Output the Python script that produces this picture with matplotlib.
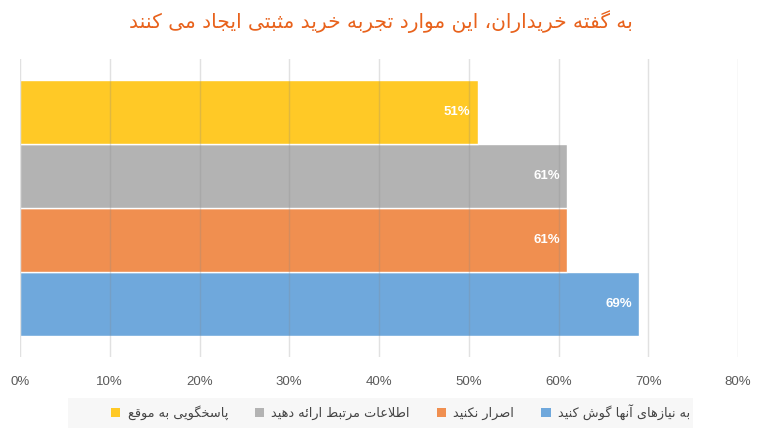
import matplotlib
import matplotlib.pyplot as plt
from matplotlib.patches import Patch, Rectangle

matplotlib.use("Agg")

# Data (bottom to top)
labels = ["به نیازهای آنها گوش کنید", "اصرار نکنید", "اطلاعات مرتبط ارائه دهید", "پاسخگویی به موقع"]
values = [69, 61, 61, 51]
colors = ["#6FA8DC", "#F08F50", "#B3B3B3", "#FFC926"]
title = "به گفته خریداران، این موارد تجربه خرید مثبتی ایجاد می کنند"
xticks = [0, 10, 20, 30, 40, 50, 60, 70, 80]

# Contextual forms (isolated, final, initial, medial) for the letters used here
FORMS = {
    "ا": (0xFE8D, 0xFE8E), "آ": (0xFE81, 0xFE82), "د": (0xFEA9, 0xFEAA),
    "ر": (0xFEAD, 0xFEAE), "ز": (0xFEAF, 0xFEB0), "و": (0xFEED, 0xFEEE),
    "ب": (0xFE8F, 0xFE90, 0xFE91, 0xFE92), "ت": (0xFE95, 0xFE96, 0xFE97, 0xFE98),
    "ث": (0xFE99, 0xFE9A, 0xFE9B, 0xFE9C), "ج": (0xFE9D, 0xFE9E, 0xFE9F, 0xFEA0),
    "خ": (0xFEA5, 0xFEA6, 0xFEA7, 0xFEA8), "س": (0xFEB1, 0xFEB2, 0xFEB3, 0xFEB4),
    "ش": (0xFEB5, 0xFEB6, 0xFEB7, 0xFEB8), "ص": (0xFEB9, 0xFEBA, 0xFEBB, 0xFEBC),
    "ط": (0xFEC1, 0xFEC2, 0xFEC3, 0xFEC4), "ع": (0xFEC9, 0xFECA, 0xFECB, 0xFECC),
    "ف": (0xFED1, 0xFED2, 0xFED3, 0xFED4), "ق": (0xFED5, 0xFED6, 0xFED7, 0xFED8),
    "ل": (0xFEDD, 0xFEDE, 0xFEDF, 0xFEE0), "م": (0xFEE1, 0xFEE2, 0xFEE3, 0xFEE4),
    "ن": (0xFEE5, 0xFEE6, 0xFEE7, 0xFEE8), "ه": (0xFEE9, 0xFEEA, 0xFEEB, 0xFEEC),
    "ئ": (0xFE89, 0xFE8A, 0xFE8B, 0xFE8C), "پ": (0xFB56, 0xFB57, 0xFB58, 0xFB59),
    "ک": (0xFB8E, 0xFB8F, 0xFB90, 0xFB91), "گ": (0xFB92, 0xFB93, 0xFB94, 0xFB95),
    "ی": (0xFBFC, 0xFBFD, 0xFBFE, 0xFBFF),
}
LAM_ALEF = {"ا": (0xFEFB, 0xFEFC), "آ": (0xFEF5, 0xFEF6)}


def shape(text):
    # join letters and flip to visual order, matplotlib has no bidi
    res = []
    prev_joins = False
    i = 0
    while i < len(text):
        c = text[i]
        if c not in FORMS:
            res.append(c)
            prev_joins = False
            i += 1
            continue
        if c == "ل" and i + 1 < len(text) and text[i + 1] in LAM_ALEF:
            lig = LAM_ALEF[text[i + 1]]
            res.append(chr(lig[1] if prev_joins else lig[0]))
            prev_joins = False
            i += 2
            continue
        forms = FORMS[c]
        nxt = text[i + 1] if i + 1 < len(text) else None
        joins_next = len(forms) == 4 and nxt in FORMS
        if prev_joins and joins_next:
            f = forms[3]
        elif prev_joins:
            f = forms[1]
        elif joins_next:
            f = forms[2]
        else:
            f = forms[0]
        res.append(chr(f))
        prev_joins = joins_next
        i += 1
    return "".join(reversed(res))


plt.rcParams["font.family"] = ["DejaVu Sans"]

fig = plt.figure(figsize=(7.62, 4.37), dpi=100)
ax = fig.add_axes([20 / 762, 1 - 357 / 437, 718 / 762, 298 / 437])

pos = list(range(len(values)))
ax.barh(pos, values, height=1.0, color=colors, edgecolor="white", linewidth=1, zorder=2)

for p, v in zip(pos, values):
    ax.text(v - 0.8, p, f"{v}%", ha="right", va="center", color="white",
            fontsize=9.5, fontweight="bold", family="Liberation Sans", zorder=4)

ax.set_xlim(0, 80)
ax.set_ylim(-0.5 - 0.33, len(values) - 0.5 + 0.33)
ax.set_xticks(xticks)
ax.set_xticklabels([f"{t}%" for t in xticks], family="Liberation Sans", fontsize=9.5, color="#5a5a5a")
ax.set_yticks([])
ax.tick_params(axis="x", length=0, pad=14)
for s in ax.spines.values():
    s.set_visible(False)
ax.grid(axis="x", color="#888888", alpha=0.25, linewidth=1, zorder=3)
ax.set_axisbelow(False)

fig.text(0.5, 1 - 22 / 437, shape(title), ha="center", va="center", color="#E8621C", fontsize=14.5)

# legend background box
fig.patches.append(Rectangle((68 / 762, 1 - 428 / 437), 625 / 762, 30 / 437,
                             transform=fig.transFigure, facecolor="#F7F7F7", edgecolor="none", zorder=0))
handles = [Patch(facecolor=c, edgecolor="none") for c in colors[::-1]]
leg = fig.legend(handles, [shape(l) for l in labels[::-1]], loc="center right",
                 bbox_to_anchor=(690 / 762, 1 - 412 / 437), ncol=4, frameon=False,
                 fontsize=9.3, handlelength=0.72, handleheight=0.72, handletextpad=0.55,
                 columnspacing=2.1, borderpad=0, borderaxespad=0)
for t in leg.get_texts():
    t.set_color("#444444")

fig.savefig("out.png", dpi=100)
